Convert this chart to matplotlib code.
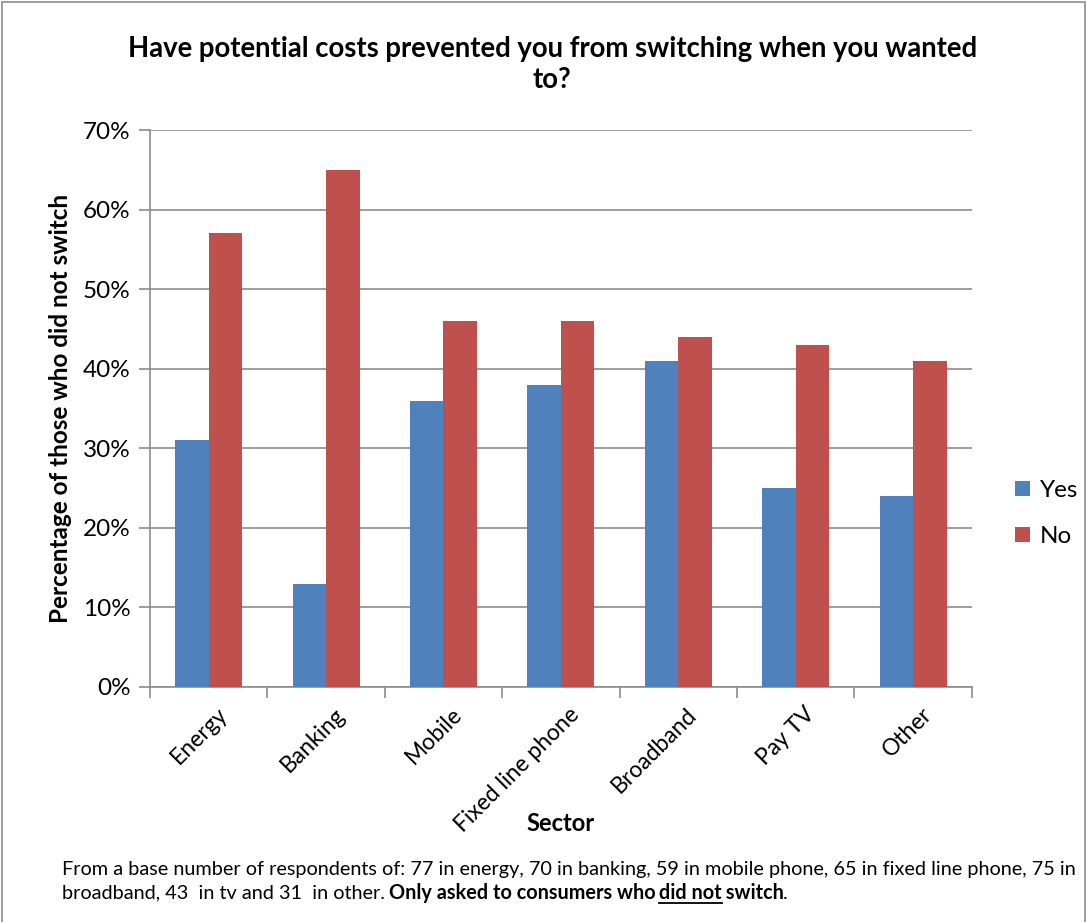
import numpy as np
import matplotlib.pyplot as plt
import matplotlib.transforms as mtransforms
from matplotlib.patches import Rectangle
from matplotlib.lines import Line2D

plt.rcParams['font.family'] = ['Lato', 'DejaVu Sans']

sectors = ['Energy', 'Banking', 'Mobile', 'Fixed line phone', 'Broadband', 'Pay TV', 'Other']
yes_pct = [31, 13, 36, 38, 41, 25, 24]
no_pct = [57, 65, 46, 46, 44, 43, 41]

blue = '#4f81bd'
red = '#c0504d'
grid_col = '#8c8c8c'

fig = plt.figure(figsize=(10.87, 9.22), dpi=100)
ax = fig.add_axes([0.138, 0.2549, 0.756, 0.6041])

x = np.arange(len(sectors))
w = 1 / 3.5
ax.bar(x - w / 2, yes_pct, w, color=blue, label='Yes', zorder=3)
ax.bar(x + w / 2, no_pct, w, color=red, label='No', zorder=3)

ax.set_xlim(-0.5, len(sectors) - 0.5)
ax.set_ylim(0, 70)
ax.set_yticks(range(0, 71, 10))
ax.set_yticklabels([f'{v}%' for v in range(0, 71, 10)], fontsize=17.5)
ax.yaxis.grid(True, color=grid_col, linewidth=1.2, zorder=0)

# category labels sit at the centres, tick marks at the boundaries
ax.set_xticks(x)
ax.set_xticklabels(sectors, rotation=45, ha='right', rotation_mode='anchor', fontsize=16.5)
ax.tick_params(axis='x', length=0, pad=12)
shift = mtransforms.ScaledTranslation(8 / 100, 0, fig.dpi_scale_trans)
for lab in ax.get_xticklabels():
    lab.set_transform(lab.get_transform() + shift)
ax.set_xticks(np.arange(-0.5, len(sectors)), minor=True)
ax.tick_params(axis='x', which='minor', length=8, color=grid_col, width=1.2)
ax.tick_params(axis='y', length=8, color=grid_col, width=1.2, pad=6)

for s in ['top', 'right']:
    ax.spines[s].set_visible(False)
for s in ['left', 'bottom']:
    ax.spines[s].set_color(grid_col)
    ax.spines[s].set_linewidth(1.2)

ax.set_ylabel('Percentage of those who did not switch', fontsize=17.5, fontweight='bold', labelpad=8)
fig.text(0.516, 0.107, 'Sector', ha='center', va='center', fontsize=17, fontweight='bold')

fig.text(0.508, 0.930, 'Have potential costs prevented you from switching when you wanted\nto?',
         ha='center', va='center', fontsize=19.8, fontweight='bold', linespacing=1.25)

fig.legend(loc='center left', bbox_to_anchor=(0.934, 0.443), frameon=False, fontsize=17.5,
           handlelength=0.6, handleheight=0.6, labelspacing=1.05, handletextpad=0.4,
           borderaxespad=0, borderpad=0)

# footnote, with the bold part and the underlined "did not"
fs = 14.3
y1 = 1 - 869 / 922
y2 = 1 - 893 / 922
x0 = 62 / 1087
fig.text(x0, y1, 'From a base number of respondents of: 77 in energy, 70 in banking, 59 in mobile phone, '
         '65 in fixed line phone, 75 in', fontsize=fs, va='center')
renderer = fig.canvas.get_renderer()
parts = [('broadband, 43  in tv and 31  in other. ', 'normal', False),
         ('Only asked to consumers who ', 'bold', False),
         ('did not', 'bold', True),
         (' switch', 'bold', False),
         ('.', 'normal', False)]
xp = x0
for txt, wt, under in parts:
    t = fig.text(xp, y2, txt, fontsize=fs, fontweight=wt, va='center')
    bb = t.get_window_extent(renderer).transformed(fig.transFigure.inverted())
    if under:
        fig.add_artist(Line2D([bb.x0, bb.x1], [y2 - 0.0105, y2 - 0.0105],
                              color='black', linewidth=1.3, transform=fig.transFigure))
    xp = bb.x1 - 0.001

fig.add_artist(Rectangle((0.002, -0.01), 0.996, 1.008, transform=fig.transFigure,
                         fill=False, edgecolor='#8c8c8c', linewidth=1.2))

fig.savefig('out.png', dpi=100)
